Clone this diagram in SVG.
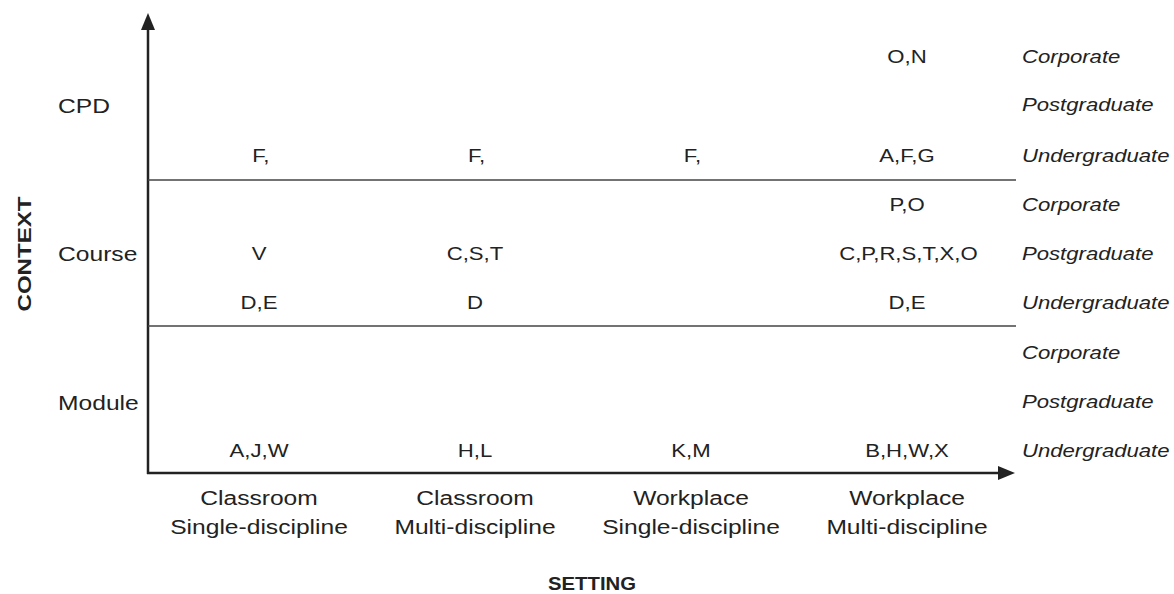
<svg xmlns="http://www.w3.org/2000/svg" width="1174" height="594" viewBox="0 0 1174 594">
  <defs>
    <style>
      text { font-family: "Liberation Sans", Arial, sans-serif; fill: #222; }
      .d { font-size: 18px; text-anchor: middle; }
      .r { font-size: 18px; font-style: italic; }
      .s { font-size: 20px; }
      .b { font-size: 20px; text-anchor: middle; }
      .t { font-size: 19px; font-weight: bold; text-anchor: middle; }
      .ax { stroke: #222; stroke-width: 2.5; fill: none; }
      .dv { stroke: #444; stroke-width: 1.5; fill: none; }
    </style>
  </defs>
  <rect width="1174" height="594" fill="#fff"/>

  <g id="connectors">
    <line class="ax" x1="148" y1="474" x2="148" y2="28"/>
    <polygon points="148,13 141,30 155,30" fill="#222"/>
    <line class="ax" x1="147" y1="473" x2="999" y2="473"/>
    <polygon points="1015,473 998,466 998,480" fill="#222"/>
    <line class="dv" x1="148" y1="180" x2="1016" y2="180"/>
    <line class="dv" x1="148" y1="326" x2="1016" y2="326"/>
  </g>

  <g id="axis-titles">
    <text class="t" transform="translate(31,254) rotate(-90)" x="0" y="0" textLength="115" lengthAdjust="spacingAndGlyphs">CONTEXT</text>
    <text class="t" x="592" y="590" font-size="18" textLength="88" lengthAdjust="spacingAndGlyphs">SETTING</text>
  </g>

  <g transform="scale(1.23 1)">
    <g id="context-labels">
      <text class="s" x="47.2" y="113">CPD</text>
      <text class="s" x="47.2" y="261">Course</text>
      <text class="s" x="47.2" y="410">Module</text>
    </g>

    <g id="level-labels">
      <text class="r" x="830.9" y="63">Corporate</text>
      <text class="r" x="830.9" y="111">Postgraduate</text>
      <text class="r" x="830.9" y="162">Undergraduate</text>
      <text class="r" x="830.9" y="211">Corporate</text>
      <text class="r" x="830.9" y="260">Postgraduate</text>
      <text class="r" x="830.9" y="309">Undergraduate</text>
      <text class="r" x="830.9" y="359">Corporate</text>
      <text class="r" x="830.9" y="408">Postgraduate</text>
      <text class="r" x="830.9" y="457">Undergraduate</text>
    </g>

    <g id="setting-labels">
      <text class="b" x="210.6" y="505">Classroom</text>
      <text class="b" x="210.6" y="534">Single-discipline</text>
      <text class="b" x="386.2" y="505">Classroom</text>
      <text class="b" x="386.2" y="534">Multi-discipline</text>
      <text class="b" x="561.8" y="505">Workplace</text>
      <text class="b" x="561.8" y="534">Single-discipline</text>
      <text class="b" x="737.4" y="505">Workplace</text>
      <text class="b" x="737.4" y="534">Multi-discipline</text>
    </g>

    <g id="cpd-cells">
      <text class="d" x="737.4" y="63">O,N</text>
      <text class="d" x="212" y="162">F,</text>
      <text class="d" x="387.5" y="162">F,</text>
      <text class="d" x="563" y="162">F,</text>
      <text class="d" x="737.4" y="162">A,F,G</text>
    </g>

    <g id="course-cells">
      <text class="d" x="737.4" y="211">P,O</text>
      <text class="d" x="210.6" y="260">V</text>
      <text class="d" x="386.2" y="260">C,S,T</text>
      <text class="d" x="738.6" y="260">C,P,R,S,T,X,O</text>
      <text class="d" x="210.6" y="309">D,E</text>
      <text class="d" x="386.2" y="309">D</text>
      <text class="d" x="737.4" y="309">D,E</text>
    </g>

    <g id="module-cells">
      <text class="d" x="210.6" y="457">A,J,W</text>
      <text class="d" x="386.2" y="457">H,L</text>
      <text class="d" x="561.8" y="457">K,M</text>
      <text class="d" x="737.4" y="457">B,H,W,X</text>
    </g>
  </g>
</svg>
